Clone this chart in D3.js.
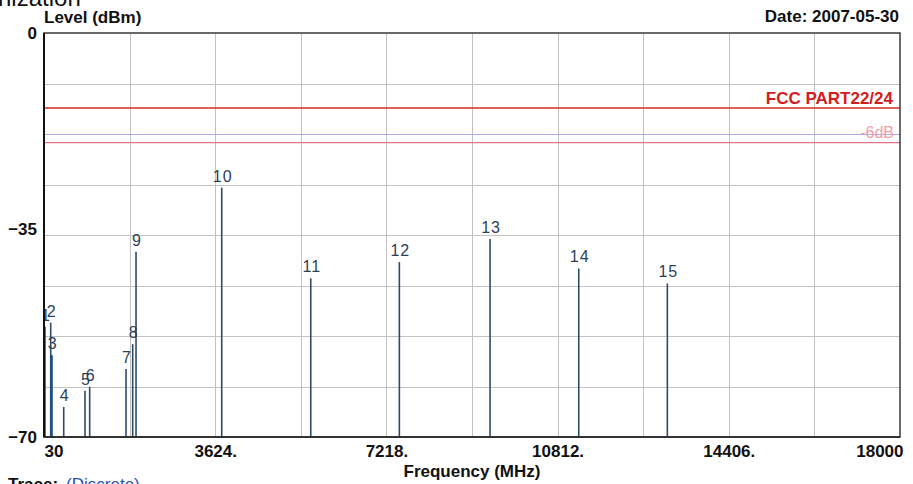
<!DOCTYPE html>
<html>
<head>
<meta charset="utf-8">
<script src="https://cdn.jsdelivr.net/npm/d3@7/dist/d3.min.js"></script>
<style>
  html, body { margin: 0; padding: 0; background: #fff; }
  svg { display: block; font-family: Arial, "Liberation Sans", sans-serif; }
</style>
</head>
<body>
<svg id="chart" width="913" height="484"></svg>
<script>
// Spurious emission markers: frequency (MHz) and measured level (dBm)
const markerIds   = [1, 2, 3, 4, 5, 6, 7, 8, 9, 10, 11, 12, 13, 14, 15];
const markerFreqs = [51, 171, 192, 444, 891, 989, 1752, 1892, 1962, 3761, 5630, 7490, 9394, 11256, 13116];
const markerLevels = [-50.9, -50.2, -55.8, -64.8, -62.0, -61.3, -58.2, -53.9, -37.9, -26.8, -42.5, -39.7, -35.7, -40.8, -43.4];

// Axis ticks
const xTickValues = [30, 3624, 7218, 10812, 14406, 18000];
const xTickLabels = ["30", "3624.", "7218.", "10812.", "14406.", "18000"];
const yTickValues = [0, -35, -70];

// Limit lines (dBm)
const limitNames  = ["FCC PART22/24", "-6dB"];
const limitLevels = [-13, -19];

const svg = d3.select("#chart");
const plot = { left: 44, top: 33, right: 900, bottom: 437 };
const FONT = "Arial, 'Liberation Sans', sans-serif";

const x = d3.scaleLinear().domain([30, 18000]).range([plot.left, plot.right]);
const y = d3.scaleLinear().domain([-70, 0]).range([plot.bottom, plot.top]);

svg.append("defs").append("clipPath").attr("id", "plot-clip")
  .append("rect")
  .attr("x", plot.left).attr("y", plot.top)
  .attr("width", plot.right - plot.left).attr("height", plot.bottom - plot.top);

// Page heading (scrolled partly out of view)
svg.append("text").attr("x", -2).attr("y", 6)
  .attr("font-size", 24).attr("fill", "#111").text("nization");

// Grid: 10 vertical and 8 horizontal divisions
const xGrid = d3.range(0, 11).map(i => 30 + i * (18000 - 30) / 10);
const yGrid = d3.range(0, 9).map(i => -i * 70 / 8);

svg.append("g").selectAll("line").data(xGrid.slice(1, -1)).join("line")
  .attr("x1", d => Math.round(x(d)) + 0.5).attr("x2", d => Math.round(x(d)) + 0.5)
  .attr("y1", plot.top).attr("y2", plot.bottom)
  .attr("stroke", "#c2c2c2").attr("stroke-width", 1);

svg.append("g").selectAll("line").data(yGrid.slice(1, -1)).join("line")
  .attr("x1", plot.left).attr("x2", plot.right)
  .attr("y1", d => Math.round(y(d)) + 0.5).attr("y2", d => Math.round(y(d)) + 0.5)
  .attr("stroke", (d, i) => i === 1 ? "#b0a9de" : "#c2c2c2").attr("stroke-width", 1);

// Limit lines
svg.append("line")
  .attr("x1", plot.left).attr("x2", plot.right)
  .attr("y1", y(limitLevels[0])).attr("y2", y(limitLevels[0]))
  .attr("stroke", "#d42a2a").attr("stroke-width", 1.6);
svg.append("line")
  .attr("x1", plot.left).attr("x2", plot.right)
  .attr("y1", y(limitLevels[1])).attr("y2", y(limitLevels[1]))
  .attr("stroke", "#de7482").attr("stroke-width", 1.3);

svg.append("text").attr("x", 893).attr("y", y(limitLevels[0]) - 4.5)
  .attr("text-anchor", "end").attr("font-size", 17).attr("font-weight", "bold")
  .attr("fill", "#d41c1c").text(limitNames[0]);
svg.append("text").attr("x", 894).attr("y", y(limitLevels[1]) - 4.5)
  .attr("text-anchor", "end").attr("font-size", 16)
  .attr("fill", "#f0a0a6").text(limitNames[1]);

// Marker spikes and their numbers
const markers = markerIds.map((id, i) => ({ id, f: markerFreqs[i], v: markerLevels[i] }));

svg.append("g").selectAll("line").data(markers).join("line")
  .attr("x1", d => x(d.f)).attr("x2", d => x(d.f))
  .attr("y1", d => y(d.v)).attr("y2", plot.bottom)
  .attr("stroke", d => d.id === 3 ? "#1d4f96" : "#2f4b68")
  .attr("stroke-width", d => d.id === 3 ? 2.2 : 1.6);

svg.append("g").attr("clip-path", "url(#plot-clip)")
  .selectAll("text").data(markers).join("text")
  .attr("x", d => x(d.f) + 1).attr("y", d => y(d.v) - 6)
  .attr("text-anchor", "middle").attr("font-size", 16).attr("letter-spacing", 1)
  .attr("fill", "#2c3f58").text(d => d.id);

// Frame
svg.append("rect")
  .attr("x", plot.left).attr("y", plot.top)
  .attr("width", plot.right - plot.left).attr("height", plot.bottom - plot.top)
  .attr("fill", "none").attr("stroke", "#3a3a3a").attr("stroke-width", 1.5);
svg.append("line").attr("x1", plot.left).attr("x2", plot.left)
  .attr("y1", plot.top).attr("y2", plot.bottom)
  .attr("stroke", "#111").attr("stroke-width", 2);
svg.append("line").attr("x1", plot.left).attr("x2", plot.right)
  .attr("y1", plot.bottom).attr("y2", plot.bottom)
  .attr("stroke", "#222").attr("stroke-width", 1.5);

// Axes
const yAxis = d3.axisLeft(y).tickValues(yTickValues).tickSize(0).tickPadding(7).tickFormat(d3.format("d"));
const gy = svg.append("g").attr("transform", `translate(${plot.left},0)`).call(yAxis);
gy.select(".domain").remove();
gy.selectAll("text").attr("font-size", 17).attr("font-weight", "bold").attr("fill", "#111")
  .attr("font-family", FONT)
  .attr("dy", d => d === -35 ? "-0.05em" : "0.32em");

const xAxis = d3.axisBottom(x).tickValues(xTickValues).tickSize(0).tickPadding(8)
  .tickFormat((d, i) => xTickLabels[i]);
const gx = svg.append("g").attr("transform", `translate(0,${plot.bottom})`).call(xAxis);
gx.select(".domain").remove();
gx.selectAll("text").attr("font-size", 17).attr("font-weight", "bold").attr("fill", "#111")
  .attr("font-family", FONT)
  .attr("text-anchor", (d, i) => i === 0 ? "start" : (i === xTickValues.length - 1 ? "end" : "middle"))
  .attr("dx", (d, i) => i === xTickValues.length - 1 ? 3 : 0);

// Titles
svg.append("text").attr("x", 44).attr("y", 23)
  .attr("font-size", 17).attr("font-weight", "bold").attr("fill", "#111").text("Level (dBm)");
svg.append("text").attr("x", 899).attr("y", 22).attr("text-anchor", "end")
  .attr("font-size", 17).attr("font-weight", "bold").attr("fill", "#111").text("Date: 2007-05-30");
svg.append("text").attr("x", 472).attr("y", 477).attr("text-anchor", "middle")
  .attr("font-size", 17).attr("font-weight", "bold").attr("fill", "#111").text("Frequency (MHz)");

const trace = svg.append("text").attr("x", 8).attr("y", 490).attr("font-size", 17);
trace.append("tspan").attr("font-weight", "bold").attr("fill", "#111").text("Trace:");
trace.append("tspan").attr("dx", 8).attr("fill", "#2a4fb0").text("(Discrete)");
</script>
</body>
</html>
